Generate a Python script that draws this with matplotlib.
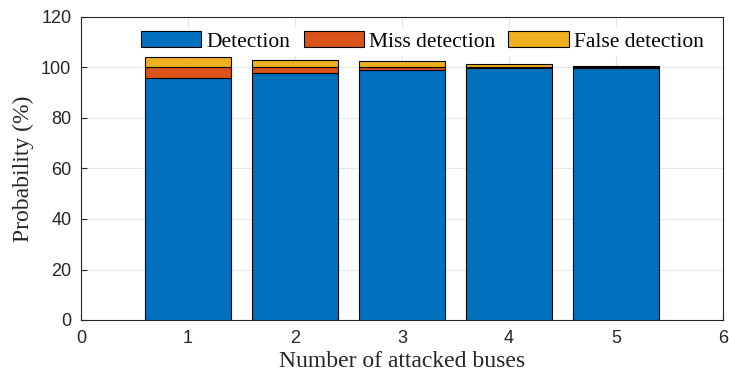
import matplotlib
matplotlib.use("Agg")
import matplotlib.pyplot as plt
import numpy as np

buses = [1, 2, 3, 4, 5]
detection = [95.7, 98.0, 99.0, 99.7, 99.7]
miss_detection = [4.3, 2.0, 1.0, 0.3, 0.3]
false_detection = [4.0, 3.0, 2.5, 1.3, 0.7]

colors = ["#0072BD", "#D95319", "#EDB120"]
labels = ["Detection", "Miss detection", "False detection"]

fig = plt.figure(figsize=(7.29, 3.78), dpi=100)
ax = fig.add_axes([81 / 729, 1 - 320 / 378, (723 - 81) / 729, (320 - 17) / 378])

x = np.array(buses)
det = np.array(detection)
miss = np.array(miss_detection)
fal = np.array(false_detection)
ax.bar(x, det, width=0.8, color=colors[0], edgecolor="black", linewidth=0.8, label=labels[0], zorder=3)
ax.bar(x, miss, width=0.8, bottom=det, color=colors[1], edgecolor="black", linewidth=0.8, label=labels[1], zorder=3)
ax.bar(x, fal, width=0.8, bottom=det + miss, color=colors[2], edgecolor="black", linewidth=0.8, label=labels[2], zorder=3)

ax.set_xlim(0, 6)
ax.set_ylim(0, 120)
ax.set_xticks(range(0, 7))
ax.set_yticks(range(0, 121, 20))
ax.grid(True, color="#e6e6e6", linewidth=0.8, zorder=0)
ax.set_axisbelow(True)
ax.tick_params(direction="in", length=4, labelsize=13, colors="#262626", width=0.8, pad=7)
for lbl in ax.get_xticklabels() + ax.get_yticklabels():
    lbl.set_family("Liberation Sans")
for s in ax.spines.values():
    s.set_color("#262626")
    s.set_linewidth(0.8)

ax.set_xlabel("Number of attacked buses", family="Liberation Serif", fontsize=17, color="#262626", labelpad=3)
ax.set_ylabel("Probability (%)", family="Liberation Serif", fontsize=17, color="#262626", labelpad=5)

leg = ax.legend(loc="upper center", ncol=3, frameon=True, fancybox=False, edgecolor="white",
                framealpha=1, prop={"family": "Liberation Serif", "size": 15.5},
                handlelength=2.8, handleheight=0.8, columnspacing=0.6, handletextpad=0.25,
                borderpad=0.15, borderaxespad=0.5, bbox_to_anchor=(0.532, 1.0))

fig.savefig("out.png", dpi=100)
